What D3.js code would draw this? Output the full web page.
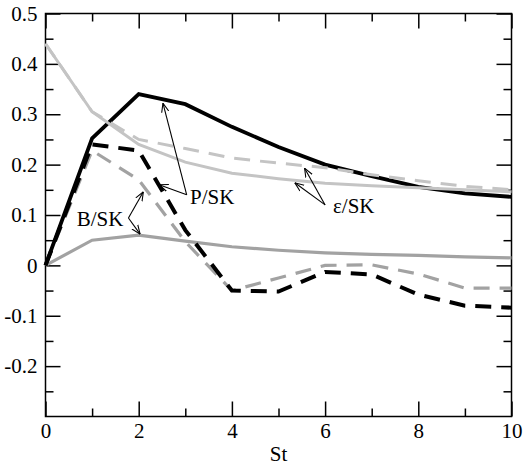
<!DOCTYPE html>
<html>
<head>
<meta charset="utf-8">
<script src="https://cdn.jsdelivr.net/npm/d3@7"></script>
<style>
  body { margin: 0; background: #fff; }
</style>
</head>
<body>
<svg id="chart" width="524" height="467"></svg>
<script>
// values, one entry per St
const st = [0, 1, 2, 3, 4, 5, 6, 7, 8, 9, 10]

const pSolid = [0.0, 0.252, 0.34, 0.32, 0.275, 0.235, 0.2, 0.177, 0.156, 0.143, 0.136]
const pDashed = [0.0, 0.24, 0.228, 0.07, -0.05, -0.052, -0.013, -0.018, -0.058, -0.08, -0.084]
const bSolid = [0.0, 0.05, 0.06, 0.048, 0.037, 0.03, 0.025, 0.022, 0.02, 0.017, 0.015]
const bDashed = [0.0, 0.228, 0.17, 0.047, -0.05, -0.025, 0.0, 0.001, -0.017, -0.045, -0.045]
const eSolid = [0.44, 0.305, 0.24, 0.205, 0.183, 0.172, 0.163, 0.158, 0.154, 0.15, 0.146]
const eDashed = [0.44, 0.305, 0.25, 0.232, 0.213, 0.203, 0.194, 0.18, 0.168, 0.157, 0.15]

const xMajor = [0, 2, 4, 6, 8, 10]
const xMinor = [1, 3, 5, 7, 9]
const yMajor = [-0.2, -0.1, 0, 0.1, 0.2, 0.3, 0.4, 0.5]
const yMinor = [-0.25, -0.15, -0.05, 0.05, 0.15, 0.25, 0.35, 0.45]

// labels with arrows: text anchor, arrow tails and heads (in data units)
const labels = [
    { text: "P/SK", x: 3.1, y: 0.122, arrows: [[3.03, 0.14, 2.52, 0.322], [3.03, 0.14, 2.44, 0.16]] },
    { text: "B/SK", x: 0.67, y: 0.078, arrows: [[1.78, 0.094, 2.1, 0.146], [1.78, 0.094, 2.03, 0.062]] },
    { text: "ε/SK", x: 6.17, y: 0.104, arrows: [[6.0, 0.12, 5.56, 0.193], [6.0, 0.12, 5.35, 0.164]] }
]

const serif = "Liberation Serif"
const width = 524
const height = 467
const margin = { top: 13.5, right: 12.5, bottom: 50.5, left: 45.5 }

const svg = d3.select("#chart")

const x = d3.scaleLinear().domain([0, 10]).range([margin.left, width - margin.right])
const y = d3.scaleLinear().domain([-0.3, 0.5]).range([height - margin.bottom, margin.top])

const plotW = width - margin.left - margin.right
const plotH = height - margin.top - margin.bottom

// ticks point inward on all four sides
function drawAxis(axis, tx, ty, labelled) {
    const g = svg.append("g").attr("transform", `translate(${tx},${ty})`).call(axis)
    g.select(".domain").remove()
    g.selectAll(".tick line").attr("stroke", "#000").attr("stroke-width", 1.5)
    if (!labelled) g.selectAll(".tick text").remove()
    else g.selectAll(".tick text")
        .attr("fill", "#000")
        .attr("font-family", serif)
        .attr("font-size", 21)
    return g
}

// plain hyphen for negatives, like the original
const fmtY = d => {
    const v = +d.toFixed(1)
    return v === 0 ? "0" : (v < 0 ? "-" : "") + Math.abs(v)
}

drawAxis(d3.axisBottom(x).tickValues(xMajor).tickSize(-15).tickPadding(7), 0, y(-0.3), true)
drawAxis(d3.axisBottom(x).tickValues(xMinor).tickSize(-8), 0, y(-0.3), false)
drawAxis(d3.axisTop(x).tickValues(xMajor).tickSize(-15), 0, y(0.5), false)
drawAxis(d3.axisTop(x).tickValues(xMinor).tickSize(-8), 0, y(0.5), false)
drawAxis(d3.axisLeft(y).tickValues(yMajor).tickSize(-15).tickPadding(8).tickFormat(fmtY), x(0), 0, true)
drawAxis(d3.axisLeft(y).tickValues(yMinor).tickSize(-8), x(0), 0, false)
drawAxis(d3.axisRight(y).tickValues(yMajor).tickSize(-15), x(10), 0, false)
drawAxis(d3.axisRight(y).tickValues(yMinor).tickSize(-8), x(10), 0, false)

svg.append("rect")
    .attr("x", margin.left).attr("y", margin.top)
    .attr("width", plotW).attr("height", plotH)
    .attr("fill", "none").attr("stroke", "#000").attr("stroke-width", 1.5)

svg.append("text")
    .attr("x", x(5)).attr("y", 461)
    .attr("text-anchor", "middle")
    .attr("font-family", serif).attr("font-size", 21)
    .text("St")

// lines
const line = d3.line().x((d, i) => x(st[i])).y(d => y(d))

const series = [
    { values: bSolid, color: "#a2a2a2", width: 3.2, dash: null },
    { values: bDashed, color: "#a2a2a2", width: 3.2, dash: "16,10" },
    { values: pSolid, color: "#000", width: 3.8, dash: null },
    { values: pDashed, color: "#000", width: 4, dash: "16,10" },
    { values: eSolid, color: "#c4c4c4", width: 3, dash: null },
    { values: eDashed, color: "#c4c4c4", width: 3, dash: "16,10" }
]

svg.append("g")
    .selectAll("path")
    .data(series)
    .join("path")
        .attr("d", d => line(d.values))
        .attr("fill", "none")
        .attr("stroke", d => d.color)
        .attr("stroke-width", d => d.width)
        .attr("stroke-dasharray", d => d.dash)
        .attr("stroke-linejoin", "miter")

// open arrowheads
svg.append("defs").append("marker")
    .attr("id", "arrow")
    .attr("viewBox", "0 0 10 10")
    .attr("refX", 10).attr("refY", 5)
    .attr("markerWidth", 9).attr("markerHeight", 9)
    .attr("markerUnits", "userSpaceOnUse")
    .attr("orient", "auto")
    .append("path")
        .attr("d", "M0,1 L10,5 L0,9")
        .attr("fill", "none")
        .attr("stroke", "#000")
        .attr("stroke-width", 1.2)

const ann = svg.append("g")
labels.forEach(l => {
    ann.append("text")
        .attr("x", x(l.x)).attr("y", y(l.y))
        .attr("font-family", serif).attr("font-size", 21)
        .text(l.text)
    l.arrows.forEach(a => {
        ann.append("line")
            .attr("x1", x(a[0])).attr("y1", y(a[1]))
            .attr("x2", x(a[2])).attr("y2", y(a[3]))
            .attr("stroke", "#000").attr("stroke-width", 1.1)
            .attr("marker-end", "url(#arrow)")
    })
})
</script>
</body>
</html>
